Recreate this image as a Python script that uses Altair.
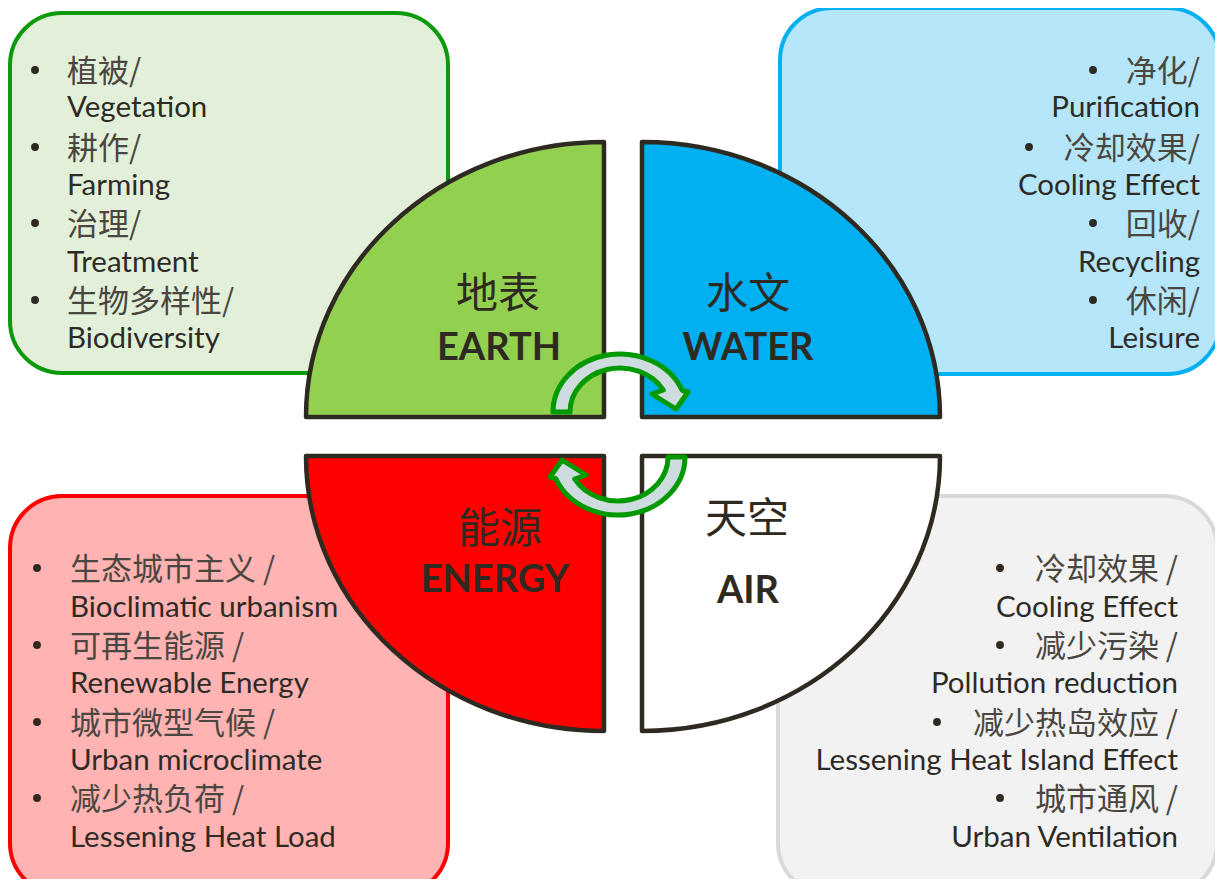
import math
import altair as alt
import pandas as pd

# ---------------- content ----------------
earth_cn = ["植被/", "耕作/", "治理/", "生物多样性/"]
earth_en = ["Vegetation", "Farming", "Treatment", "Biodiversity"]
water_cn = ["净化/", "冷却效果/", "回收/", "休闲/"]
water_en = ["Purification", "Cooling Effect", "Recycling", "Leisure"]
energy_cn = ["生态城市主义 /", "可再生能源 /", "城市微型气候 /", "减少热负荷 /"]
energy_en = ["Bioclimatic urbanism", "Renewable Energy", "Urban microclimate", "Lessening Heat Load"]
air_cn = ["冷却效果 /", "减少污染 /", "减少热岛效应 /", "城市通风 /"]
air_en = ["Cooling Effect", "Pollution reduction", "Lessening Heat Island Effect", "Urban Ventilation"]

quad_cn = ["地表", "水文", "能源", "天空"]
quad_en = ["EARTH", "WATER", "ENERGY", "AIR"]
quad_fill = ["#92d050", "#00b0f0", "#ff0000", "#ffffff"]

# ---------------- layout (pixel space of the picture) ----------------
box_x = [10, 780, 10, 778]
box_x2 = [448, 1220, 448, 1217]
box_y = [13, 8, 496, 496]
box_y2 = [373, 374, 895, 895]
box_fill = ["#e2f0d9", "#b5e6f9", "#ffb3b3", "#f2f2f2"]
box_stroke = ["#0c9a0c", "#00b0f0", "#ff0000", "#d9d9d9"]

top_cn_base = [82, 159, 235, 312]
top_en_base = [117, 195, 272, 348]
bot_cn_base = [580, 657, 734, 810]
bot_en_base = [617, 693, 770, 847]
top_bullet_y = [70, 147, 223, 300]
bot_bullet_y = [568, 645, 722, 798]

earth_bullet_x = [35, 35, 35, 35]
water_bullet_x = [1093, 1029, 1093, 1093]
energy_bullet_x = [37, 37, 37, 37]
air_bullet_x = [1000, 1000, 937, 1000]

sector_cx = [604, 642, 604, 642]
sector_cy = [417, 417, 456, 456]
RX, RY = 298, 275

label_x = [498, 748, 500, 747]
label_cn_base = [308, 308, 543, 533]
label_en_x = [499, 748, 495, 748]
label_en_base = [360, 360, 592, 603]

arrow_cx = [620, 618]
arrow_cy = [412, 457]

INK = "#2f2a21"
TXT = "#2e2b27"
LATIN = "Lato, 'Noto Sans CJK SC', sans-serif"
CJK = "'Noto Sans CJK SC', sans-serif"

W, H = 1207, 871
xs = alt.Scale(domain=[8, 8 + W], nice=False, zero=False)
ys = alt.Scale(domain=[8, 8 + H], nice=False, zero=False, reverse=True)
X = lambda f="x": alt.X(f"{f}:Q", scale=xs, axis=None)
Y = lambda f="y": alt.Y(f"{f}:Q", scale=ys, axis=None)


def ell_arc(rx, ry, a0, a1, s=1.0):
    n = max(1, math.ceil(abs(a1 - a0) / 90 - 1e-9))
    d = (a1 - a0) / n
    out = []
    for i in range(n):
        t0 = math.radians(a0 + i * d)
        t1 = math.radians(a0 + (i + 1) * d)
        k = 4 / 3 * math.tan((t1 - t0) / 4)
        p1 = (math.cos(t1), -math.sin(t1))
        p0 = (math.cos(t0), -math.sin(t0))
        d0 = (-math.sin(t0), -math.cos(t0))
        d1 = (-math.sin(t1), -math.cos(t1))
        c1 = (p0[0] + k * d0[0], p0[1] + k * d0[1])
        c2 = (p1[0] - k * d1[0], p1[1] - k * d1[1])
        pts = [c1, c2, p1]
        out.append("C " + " ".join(f"{s*rx*p[0]:.2f} {s*ry*p[1]:.2f}" for p in pts))
    return " ".join(out)


sector_paths = [
    f"M 0 0 L {-RX} 0 " + ell_arc(RX, RY, 180, 90) + " Z",
    f"M 0 0 L 0 {-RY} " + ell_arc(RX, RY, 90, 0) + " Z",
    f"M 0 0 L {-RX} 0 " + ell_arc(RX, RY, 180, 270) + " Z",
    f"M 0 0 L {RX} 0 " + ell_arc(RX, RY, 0, -90) + " Z",
]


def arrow_path(s):
    ox, oy, ix, iy = 67, 58, 50, 44
    ie = (ix * math.cos(math.radians(30)), -iy * math.sin(math.radians(30)))
    head = [(68, -20), (56, -3), (32, -18), ie]
    p = f"M {-ox*s} 0 " + ell_arc(ox, oy, 180, 22, s)
    for (a, b) in head:
        p += f" L {a*s:.2f} {b*s:.2f}"
    p += " " + ell_arc(ix, iy, 30, 180, s) + " Z"
    return p


arrow_paths = [arrow_path(1), arrow_path(-1)]

# ---------------- layers ----------------
layers = []

boxes = pd.DataFrame({"x": box_x, "x2": box_x2, "y": box_y, "y2": box_y2,
                      "fill": box_fill, "stroke": box_stroke})
layers.append(
    alt.Chart(boxes).mark_rect(cornerRadius=52, strokeWidth=4).encode(
        x=X(), x2="x2:Q", y=Y(), y2="y2:Q",
        fill=alt.Fill("fill:N", scale=None), stroke=alt.Stroke("stroke:N", scale=None))
)

for i in range(4):
    d = pd.DataFrame({"x": [sector_cx[i]], "y": [sector_cy[i]], "name": [quad_en[i]]})
    layers.append(
        alt.Chart(d).mark_point(shape=sector_paths[i], size=4, filled=True, fill=quad_fill[i],
                                stroke=INK, strokeWidth=4.5, opacity=1, fillOpacity=1,
                                strokeOpacity=1, strokeJoin="round").encode(x=X(), y=Y())
    )

for i in range(2):
    d = pd.DataFrame({"x": [arrow_cx[i]], "y": [arrow_cy[i]]})
    layers.append(
        alt.Chart(d).mark_point(shape=arrow_paths[i], size=4, filled=True, fill="#cfdcdf",
                                stroke="#009a00", strokeWidth=5, opacity=1, fillOpacity=1,
                                strokeOpacity=1, strokeJoin="round").encode(x=X(), y=Y())
    )

bullets = pd.DataFrame({
    "x": earth_bullet_x + water_bullet_x + energy_bullet_x + air_bullet_x,
    "y": top_bullet_y * 2 + bot_bullet_y * 2,
})
layers.append(
    alt.Chart(bullets).mark_circle(size=62, color=INK, opacity=1).encode(x=X(), y=Y())
)

rows = []
for lst_cn, lst_en, xpos, side, cnb, enb in [
    (earth_cn, earth_en, 67, "left", top_cn_base, top_en_base),
    (water_cn, water_en, 1200, "right", top_cn_base, top_en_base),
    (energy_cn, energy_en, 70, "left", bot_cn_base, bot_en_base),
    (air_cn, air_en, 1178, "right", bot_cn_base, bot_en_base),
]:
    for j in range(4):
        rows.append({"x": xpos, "y": cnb[j], "t": lst_cn[j], "side": side, "kind": "cn"})
        rows.append({"x": xpos, "y": enb[j], "t": lst_en[j], "side": side, "kind": "en"})
txt = pd.DataFrame(rows)

for side in ["left", "right"]:
    sub_cn = txt[(txt["side"] == side) & (txt["kind"] == "cn")].reset_index(drop=True)
    sub_en = txt[(txt["side"] == side) & (txt["kind"] == "en")].reset_index(drop=True)
    layers.append(
        alt.Chart(sub_cn).mark_text(
            align=side, baseline="alphabetic", font=CJK, fontSize=31, color="#4a4640"
        ).encode(x=X(), y=Y(), text="t:N")
    )
    layers.append(
        alt.Chart(sub_en).mark_text(
            align=side, baseline="alphabetic", font=LATIN, fontSize=29.5, color=TXT
        ).encode(x=X(), y=Y(), text="t:N")
    )

lab_cn = pd.DataFrame({"x": label_x, "y": label_cn_base, "t": quad_cn})
lab_en = pd.DataFrame({"x": label_en_x, "y": label_en_base, "t": quad_en})
layers.append(
    alt.Chart(lab_cn).mark_text(align="center", baseline="alphabetic", font=CJK,
                                fontSize=42, color=INK).encode(x=X(), y=Y(), text="t:N")
)
layers.append(
    alt.Chart(lab_en).mark_text(align="center", baseline="alphabetic", font=LATIN,
                                fontSize=38, fontWeight="bold", color=INK).encode(x=X(), y=Y(), text="t:N")
)

chart = alt.layer(*layers).properties(
    width=W, height=H, padding=0, background="white",
    autosize=alt.AutoSizeParams(type="none"),
).configure_view(strokeWidth=0)

chart.save("out.html", embed_options={"renderer": "svg", "actions": False})
